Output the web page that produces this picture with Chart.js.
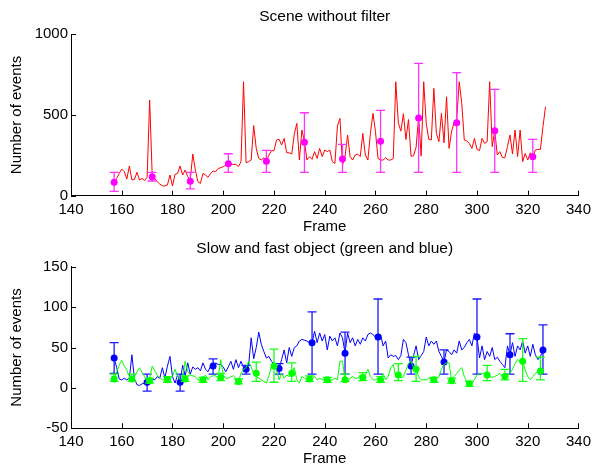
<!DOCTYPE html>
<html><head><meta charset="utf-8">
<script src="https://cdn.jsdelivr.net/npm/chart.js@4.4.1/dist/chart.umd.min.js"></script>
<style>
html,body{margin:0;padding:0;background:#fff;}
#wrap{position:relative;width:596px;height:470px;overflow:hidden;background:#fff}
canvas{position:absolute;left:0;}
</style></head><body>
<div id="wrap">
<canvas id="c1" width="596" height="250" style="top:0px"></canvas>
<canvas id="c2" width="596" height="245" style="top:225px"></canvas>
</div>
<script>
// ---------- DATA ----------
const xTicks = [140,160,180,200,220,240,260,280,300,320,340];
const yTicksTop = [0,500,1000];
const yTicksBottom = [-50,0,50,100,150];

// Scene without filter: one value per frame, starting at frame 157
const sceneStart = 157;
const sceneEvents = [
 83,107,138,165,149,103,184,97,101,145,
 97,107,93,114,593,128,107,87,72,62,
 60,66,128,60,132,138,184,128,159,118,
 97,258,159,87,76,138,128,114,138,153,
 149,169,173,180,190,196,194,194,194,180,
 211,706,204,211,221,435,293,231,221,235,
 213,252,279,279,345,349,314,355,266,266,
 258,382,448,221,407,335,221,242,225,273,
 231,293,242,283,273,283,211,200,432,479,
 190,242,376,242,221,252,258,242,386,252,
 221,386,510,396,231,221,221,235,221,221,
 230,706,450,400,508,348,472,245,248,300,
 490,245,706,448,349,345,665,386,335,510,
 328,613,293,400,452,469,706,572,345,339,
 324,293,355,287,279,355,324,335,706,304,
 403,252,273,237,235,304,376,258,407,242,
 407,211,262,221,266,242,283,287,287,427,
 551];
const sceneMarkFrames = [157,172,187,202,217,232,247,262,277,292,307,322];
const sceneMarkMean   = [83,118,89,198,213,331,227,337,481,452,403,242];
const sceneMarkLow    = [27,91,42,145,145,145,145,145,145,145,145,145];
const sceneMarkHigh   = [145,145,145,260,281,514,318,529,820,762,659,349];

// Fast object (blue): one value per frame, starting at frame 157
const fastStart = 157;
const fastEvents = [
 37,25,11,10,12,10,12,41,11,4,
 3,5,6,7,11,11,10,14,12,25,
 12,27,39,14,6,16,7,28,15,31,
 17,26,23,25,21,31,23,20,27,27,
 31,29,29,26,20,26,33,23,35,25,
 33,25,23,28,62,36,50,69,54,45,
 37,39,33,29,25,24,35,47,31,50,
 39,50,52,58,60,59,58,56,56,70,
 56,68,58,66,47,64,58,62,52,68,
 62,43,68,56,62,52,60,54,62,58,
 66,68,66,63,64,66,52,58,37,41,
 39,40,35,40,60,56,41,28,40,52,
 35,40,45,63,52,58,54,58,45,39,
 32,47,45,41,47,43,58,47,50,56,
 60,52,68,63,37,52,35,45,39,50,
 35,38,33,29,25,52,41,56,39,52,
 47,58,43,52,39,54,41,35,39,47];
const fastMarkFrames = [157,170,183,196,209,222,235,248,261,274,287,300,313,326];
const fastMarkMean   = [37,7,7,27,23,24,56,43,63,27,32,63,41,47];
const fastMarkLow    = [18,-4,-4,17,17,17,17,17,17,17,17,17,17,17];
const fastMarkHigh   = [56,17,17,36,28,30,94,69,110,38,47,110,67,78];

// Slow object (green): one value per frame, starting at frame 157
const slowStart = 157;
const slowEvents = [
 11,20,28,34,27,22,14,11,14,20,
 25,19,14,8,12,27,21,16,13,10,
 10,8,12,14,23,15,10,12,33,20,
 16,15,14,10,10,12,16,10,14,15,
 15,12,35,16,12,12,14,15,12,8,
 18,23,25,33,26,18,14,12,10,8,
 6,15,27,27,22,10,18,12,16,14,
 18,25,10,6,14,12,10,10,11,14,
 10,12,10,12,10,8,10,12,10,33,
 33,10,8,12,14,12,12,16,13,16,
 23,14,10,10,12,10,18,10,14,25,
 29,14,16,12,14,22,30,33,25,23,
 14,10,10,10,12,12,10,12,14,23,
 29,31,31,8,14,18,22,25,14,8,
 4,6,10,16,18,18,17,16,14,13,
 14,16,18,14,14,16,18,23,30,35,
 33,33,22,14,10,14,18,20,22];
const slowMarkFrames = [157,164,171,178,185,192,199,206,213,220,227,234,241,248,255,262,269,276,283,290,297,304,311,318,325];
const slowMarkMean   = [11,11,9,10,11,10,13,8,18,27,18,11,10,10,13,10,16,23,10,9,5,16,14,33,21];
const slowMarkLow    = [8,8,6,7,8,7,9,5,8,7,8,8,7,8,9,7,9,8,7,6,2,9,10,8,10];
const slowMarkHigh   = [17,17,12,14,15,13,18,11,32,48,31,15,13,17,19,14,30,39,13,12,8,28,23,61,38];

// ---------- HELPERS ----------
const FONT = "'Liberation Sans', Arial, Helvetica, sans-serif";
Chart.defaults.font.family = FONT;
Chart.defaults.color = '#000';

function series(start, vals){ return vals.map((v,i)=>({x:start+i, y:v})); }
function marks(fr, vals){ return fr.map((f,i)=>({x:f, y:vals[i]})); }

const inwardTicks = {
  id:'inwardTicks',
  afterDraw(chart){
    const {ctx, chartArea:a, scales:{x,y}} = chart;
    ctx.save(); ctx.strokeStyle='#000'; ctx.lineWidth=1; ctx.beginPath();
    x.ticks.forEach(t=>{const px=Math.round(x.getPixelForValue(t.value))+0.5; ctx.moveTo(px,a.bottom); ctx.lineTo(px,a.bottom-5);});
    y.ticks.forEach(t=>{const py=Math.round(y.getPixelForValue(t.value))+0.5; ctx.moveTo(a.left,py); ctx.lineTo(a.left+5,py);});
    ctx.stroke(); ctx.restore();
  }
};
const errBars = {
  id:'errBars',
  beforeDatasetDraw(chart, args, opts){
    (opts.sets||[]).forEach(s=>{
      if (s.index !== args.index) return;
      const {ctx, scales:{x,y}} = chart;
      ctx.save(); ctx.strokeStyle=s.color; ctx.lineWidth=1.3; ctx.beginPath();
      s.frames.forEach((f,i)=>{
        const px=x.getPixelForValue(f), lo=y.getPixelForValue(s.low[i]), hi=y.getPixelForValue(s.high[i]);
        ctx.moveTo(px,lo); ctx.lineTo(px,hi);
        ctx.moveTo(px-4.5,lo); ctx.lineTo(px+4.5,lo);
        ctx.moveTo(px-4.5,hi); ctx.lineTo(px+4.5,hi);
      });
      ctx.stroke(); ctx.restore();
    });
  }
};

function axes(yMin, yMax, yTicks, xHeight, xTitlePad, titleText, titleH, titlePad){
  return {
    top:{type:'linear', position:'top', min:140, max:340,
       afterFit:s=>{s.height=titleH;},
       grid:{display:false, drawTicks:false},
       border:{display:false},
       ticks:{display:false},
       title:{display:true, text:titleText, color:'#000', font:{size:15.5, lineHeight:1}, padding:{top:titlePad,bottom:0}}},
    x:{type:'linear', position:'bottom', min:140, max:340,
       afterBuildTicks:s=>{s.ticks=xTicks.map(v=>({value:v}));},
       afterFit:s=>{s.height=xHeight;},
       grid:{display:false, drawTicks:false},
       border:{display:true, color:'#000', width:1},
       ticks:{padding:5, autoSkip:false, maxRotation:0, color:'#000', font:{size:15}, callback:v=>String(v)},
       title:{display:true, text:'Frame', color:'#000', font:{size:15, lineHeight:1}, padding:{top:0,bottom:xTitlePad}}},
    y:{type:'linear', position:'left', min:yMin, max:yMax,
       afterBuildTicks:s=>{s.ticks=yTicks.map(v=>({value:v}));},
       afterFit:s=>{s.width=71;},
       grid:{display:false, drawTicks:false},
       border:{display:true, color:'#000', width:1},
       ticks:{padding:3, autoSkip:false, color:'#000', font:{size:15}, callback:v=>String(v)},
       title:{display:true, text:'Number of events', color:'#000', font:{size:15, lineHeight:1}, padding:{top:9.5,bottom:0}}}
  };
}

function lineDs(data, color, order){ return {type:'line', data, borderColor:color, borderWidth:1, pointRadius:0, tension:0, fill:false, order, xAxisID:'x', yAxisID:'y'}; }
function markDs(data, color, order){ return {type:'scatter', data, pointRadius:3.5, pointBackgroundColor:color, pointBorderColor:color, pointBorderWidth:0, showLine:false, order, xAxisID:'x', yAxisID:'y'}; }

// ---------- TOP CHART ----------
new Chart(document.getElementById('c1'), {
  data:{datasets:[
    lineDs(series(sceneStart, sceneEvents), '#ff0000', 2),
    markDs(marks(sceneMarkFrames, sceneMarkMean), '#ff00ff', 1)
  ]},
  options:{
    responsive:false, animation:false, devicePixelRatio:1,
    layout:{padding:{left:0,right:14,top:0,bottom:0}},
    scales:axes(0,1000,yTicksTop,54.3,15.5,'Scene without filter',34.3,8.5),
    plugins:{
      legend:{display:false}, tooltip:{enabled:false}, title:{display:false},
      errBars:{sets:[{index:1, frames:sceneMarkFrames, low:sceneMarkLow, high:sceneMarkHigh, color:'#ff33ff'}]}
    }
  },
  plugins:[inwardTicks, errBars]
});

// ---------- BOTTOM CHART ----------
new Chart(document.getElementById('c2'), {
  data:{datasets:[
    lineDs(series(fastStart, fastEvents), '#0000ff', 4),
    markDs(marks(fastMarkFrames, fastMarkMean), '#0000ff', 3),
    lineDs(series(slowStart, slowEvents), '#00ff00', 2),
    markDs(marks(slowMarkFrames, slowMarkMean), '#00ff00', 1)
  ]},
  options:{
    responsive:false, animation:false, devicePixelRatio:1,
    layout:{padding:{left:0,right:14,top:0,bottom:0}},
    scales:axes(-50,150,yTicksBottom,41.7,3.5,'Slow and fast object (green and blue)',41.7,15.5),
    plugins:{
      legend:{display:false}, tooltip:{enabled:false}, title:{display:false},
      errBars:{sets:[
        {index:1, frames:fastMarkFrames, low:fastMarkLow, high:fastMarkHigh, color:'#1a1aff'},
        {index:3, frames:slowMarkFrames, low:slowMarkLow, high:slowMarkHigh, color:'#1aff1a'}
      ]}
    }
  },
  plugins:[inwardTicks, errBars]
});
</script>
</body></html>
